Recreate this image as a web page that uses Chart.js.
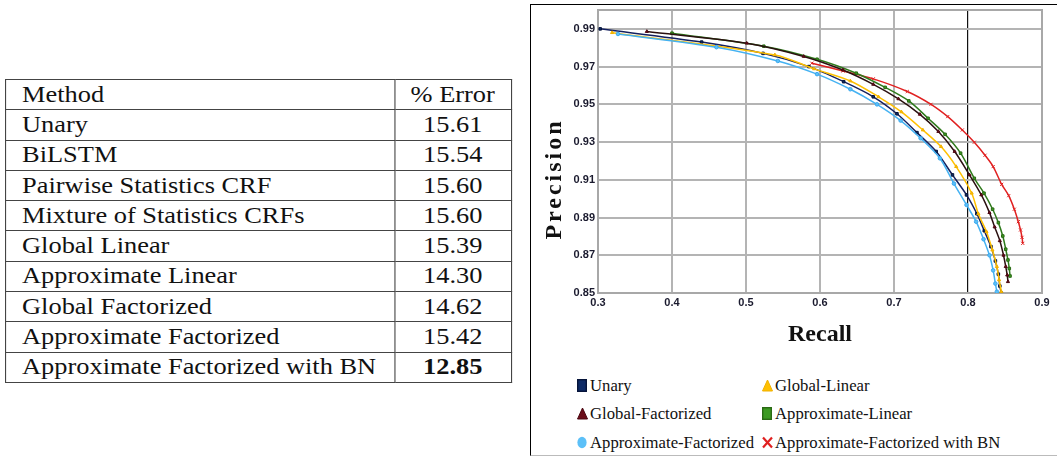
<!DOCTYPE html>
<html>
<head>
<meta charset="utf-8">
<script src="https://cdn.jsdelivr.net/npm/chart.js@4.4.1/dist/chart.umd.min.js"></script>
<style>
  html, body { margin:0; padding:0; background:#fff; }
  body { width:1057px; height:456px; position:relative; overflow:hidden; }
  #tableWrap { position:absolute; left:5px; top:79px; transform:scale(1.1,1); transform-origin:0 0; }
  table { border-collapse:collapse; font-family:"Liberation Serif","Times New Roman",serif; font-size:24px; color:#111; }
  td { border:1px solid #444; padding:0 0 2px 0; height:27.3px; line-height:24px; white-space:nowrap; box-sizing:content-box; }
  td.m { width:338px; padding-left:14.5px; text-align:left; }
  td.e { width:105px; text-align:center; }
  #panel { position:absolute; left:530px; top:4px; width:540px; height:450px; border-left:1.5px solid #000; border-top:1.5px solid #000; border-bottom:1px solid #bbb; }
  #chartBox { position:absolute; left:530px; top:0; width:527px; height:356px; }
  #ytitle { position:absolute; left:553px; top:179px; transform:translate(-50%,-50%) rotate(-90deg); font-family:"Liberation Serif",serif; font-weight:bold; font-size:24px; letter-spacing:3px; color:#111; white-space:nowrap; }
  .lg { position:absolute; font-family:"Liberation Serif",serif; font-size:16.7px; color:#111; white-space:nowrap; line-height:20px; }
  .lg svg { position:absolute; left:-13px; top:3px; }
</style>
</head>
<body>
<div id="tableWrap"></div>
<div id="panel"></div>
<div id="chartBox"><canvas id="c"></canvas></div>
<div id="ytitle">Precision</div>
<div id="legend"></div>
<script>
// ---- table data ----
const methods = ["Unary","BiLSTM","Pairwise Statistics CRF","Mixture of Statistics CRFs","Global Linear","Approximate Linear","Global Factorized","Approximate Factorized","Approximate Factorized with BN"];
const errors = ["15.61","15.54","15.60","15.60","15.39","14.30","14.62","15.42","12.85"];
const bestError = "12.85";

// ---- chart data ----
const seriesNames = ["Unary","Global-Linear","Global-Factorized","Approximate-Linear","Approximate-Factorized","Approximate-Factorized with BN"];
const xTicks = [0.3,0.4,0.5,0.6,0.7,0.8,0.9];
const yTicks = [0.85,0.87,0.89,0.91,0.93,0.95,0.97,0.99];

const unaryRecall = [0.303,0.44,0.523,0.585,0.632,0.672,0.704,0.731,0.757,0.779,0.798,0.812,0.822,0.831,0.837,0.841,0.843,0.845];
const unaryPrecision = [0.990,0.983,0.977,0.970,0.962,0.954,0.945,0.935,0.925,0.9126,0.902,0.892,0.883,0.8746,0.867,0.860,0.8537,0.850];

const globalLinearRecall = [0.319,0.539,0.592,0.641,0.679,0.710,0.739,0.7635,0.784,0.805,0.814,0.825,0.833,0.839,0.842,0.845];
const globalLinearPrecision = [0.988,0.9762,0.9688,0.9624,0.954,0.946,0.9364,0.9276,0.917,0.9029,0.892,0.8825,0.8728,0.864,0.857,0.8507];

const globalFactRecall = [0.366,0.501,0.578,0.631,0.672,0.706,0.735,0.760,0.782,0.802,0.818,0.829,0.836,0.843,0.848,0.851,0.853,0.854];
const globalFactPrecision = [0.9886,0.9824,0.9754,0.9682,0.9606,0.9529,0.9447,0.9356,0.925,0.9126,0.902,0.8926,0.885,0.8777,0.870,0.864,0.8595,0.856];

const approxLinearRecall = [0.400,0.524,0.596,0.649,0.688,0.720,0.746,0.769,0.790,0.8085,0.8216,0.8333,0.841,0.847,0.851,0.854,0.8558,0.8568];
const approxLinearPrecision = [0.9877,0.9808,0.9739,0.9665,0.959,0.9518,0.9426,0.9341,0.9241,0.9108,0.9029,0.8944,0.8873,0.8802,0.8732,0.8675,0.863,0.859];

const approxFactRecall = [0.327,0.460,0.543,0.596,0.641,0.677,0.709,0.736,0.762,0.781,0.798,0.811,0.821,0.829,0.834,0.837,0.839];
const approxFactPrecision = [0.9873,0.9803,0.9730,0.966,0.958,0.950,0.9414,0.932,0.9214,0.908,0.8967,0.8878,0.8785,0.870,0.862,0.855,0.8507];

const bnRecall = [0.589,0.631,0.672,0.718,0.750,0.7726,0.7923,0.8085,0.823,0.834,0.8455,0.855,0.8626,0.868,0.871,0.873,0.874];
const bnPrecision = [0.9718,0.9677,0.9635,0.9568,0.950,0.9435,0.9364,0.9299,0.923,0.917,0.9076,0.9016,0.8944,0.8878,0.8834,0.8795,0.8763];

// ---- build table ----
(function(){
  const t = document.createElement('table');
  const h = t.insertRow();
  const c1 = h.insertCell(); c1.className='m'; c1.textContent='Method';
  const c2 = h.insertCell(); c2.className='e'; c2.textContent='% Error';
  methods.forEach((m,i)=>{
    const r = t.insertRow();
    const a = r.insertCell(); a.className='m'; a.textContent=m;
    const b = r.insertCell(); b.className='e'; b.textContent=errors[i];
    if (errors[i]===bestError) b.style.fontWeight='bold';
  });
  document.getElementById('tableWrap').appendChild(t);
})();

// ---- chart ----
const zip = (xs, ys) => xs.map((x,i)=>({x:x, y:ys[i]}));
const styles = [
  {line:'#14205e', fill:'#0d2a66', border:'#06143a', shape:'rect'},
  {line:'#ffc000', fill:'#ffc000', border:'#f0b000', shape:'triangle'},
  {line:'#2a1010', fill:'#6a0d1a', border:'#4a0610', shape:'triangle'},
  {line:'#2f7a1c', fill:'#3c9a22', border:'#2a6a14', shape:'rect'},
  {line:'#45b2f2', fill:'#5cc0f8', border:'#3aa8ee', shape:'circle'},
  {line:'#e02020', fill:'#e02020', border:'#e02020', shape:'crossRot'}
];
const seriesData = [
  zip(unaryRecall, unaryPrecision),
  zip(globalLinearRecall, globalLinearPrecision),
  zip(globalFactRecall, globalFactPrecision),
  zip(approxLinearRecall, approxLinearPrecision),
  zip(approxFactRecall, approxFactPrecision),
  zip(bnRecall, bnPrecision)
];
const drawOrder = [4,1,0,2,3,5];
const datasets = drawOrder.map(i => ({
  label: seriesNames[i],
  data: seriesData[i],
  showLine: true,
  borderColor: styles[i].line,
  borderWidth: 1.5,
  backgroundColor: styles[i].fill,
  pointBackgroundColor: styles[i].fill,
  pointBorderColor: styles[i].border,
  pointBorderWidth: 1,
  pointStyle: styles[i].shape,
  pointRadius: styles[i].shape==='crossRot' ? 2.2 : 1.8,
  tension: 0.3,
  fill: false
}));

const framePlugin = {
  id:'frame',
  beforeDatasetsDraw(chart){
    const {ctx, chartArea:a} = chart;
    ctx.save();
    ctx.strokeStyle = '#a8a8a8';
    ctx.lineWidth = 2;
    ctx.strokeRect(a.left, a.top, a.right-a.left, a.bottom-a.top);
    ctx.restore();
  }
};

new Chart(document.getElementById('c'), {
  type: 'scatter',
  data: { datasets },
  options: {
    responsive: true,
    maintainAspectRatio: false,
    animation: false,
    layout: { padding: { left:0, right:15, top:10, bottom:0 } },
    plugins: { legend: { display:false }, tooltip: { enabled:false } },
    scales: {
      x: {
        type:'linear', min:0.3, max:0.9,
        afterBuildTicks: s => { s.ticks = xTicks.map(v=>({value:v})); },
        afterFit: s => { s.height = 63; s.paddingLeft = 0; s.paddingRight = 0; },
        grid: { color: c => (c.tick && Math.abs(c.tick.value-0.8)<1e-9) ? '#111' : '#b4b4b4', lineWidth: c => (c.tick && Math.abs(c.tick.value-0.8)<1e-9) ? 1.2 : 2, drawTicks:false },
        border: { display:false },
        ticks: { padding:3, maxRotation:0, color:'#1a1a2e', font:{family:'"Liberation Sans", Arial, sans-serif', size:11, weight:'bold'}, callback: v => Number(v).toFixed(1) },
        title: { display:true, text:'Recall', color:'#111', font:{family:'"Liberation Serif", serif', size:24, weight:'bold'}, padding:{top:0, bottom:7} }
      },
      y: {
        type:'linear', min:0.85, max:1.0,
        afterBuildTicks: s => { s.ticks = yTicks.map(v=>({value:v})); },
        afterFit: s => { s.width = 68; s.paddingTop = 0; s.paddingBottom = 0; },
        grid: { color:'#b4b4b4', lineWidth:2, drawTicks:false },
        border: { display:false },
        ticks: { padding:3, color:'#1a1a2e', font:{family:'"Liberation Sans", Arial, sans-serif', size:11, weight:'bold'}, callback: v => Number(v).toFixed(2) },
        title: { display:false }
      }
    }
  },
  plugins: [framePlugin]
});

// ---- legend ----
(function(){
  const pos = [[590,376],[775,376],[590,404],[775,404],[590,433],[775,433]];
  const lg = document.getElementById('legend');
  const icon = (i) => {
    const s = styles[i];
    if (s.shape==='rect') return `<svg width="10" height="13"><rect x="0.7" y="0.7" width="8.6" height="11.6" fill="${s.fill}" stroke="${s.border}" stroke-width="1.4"/></svg>`;
    if (s.shape==='triangle') return `<svg width="11" height="13"><polygon points="5.5,1 10.5,12 0.5,12" fill="${s.fill}" stroke="${s.border}" stroke-width="1"/></svg>`;
    if (s.shape==='circle') return `<svg width="10" height="13"><ellipse cx="5" cy="6.5" rx="4.6" ry="5.8" fill="${s.fill}"/></svg>`;
    return `<svg width="11" height="13"><path d="M1,1.5 L10,11.5 M10,1.5 L1,11.5" stroke="${s.fill}" stroke-width="2.2"/></svg>`;
  };
  seriesNames.forEach((n,i)=>{
    const d = document.createElement('div');
    d.className='lg';
    d.style.left = pos[i][0]+'px';
    d.style.top = pos[i][1]+'px';
    d.innerHTML = icon(i) + '<span>'+n+'</span>';
    lg.appendChild(d);
  });
})();
</script>
</body>
</html>
